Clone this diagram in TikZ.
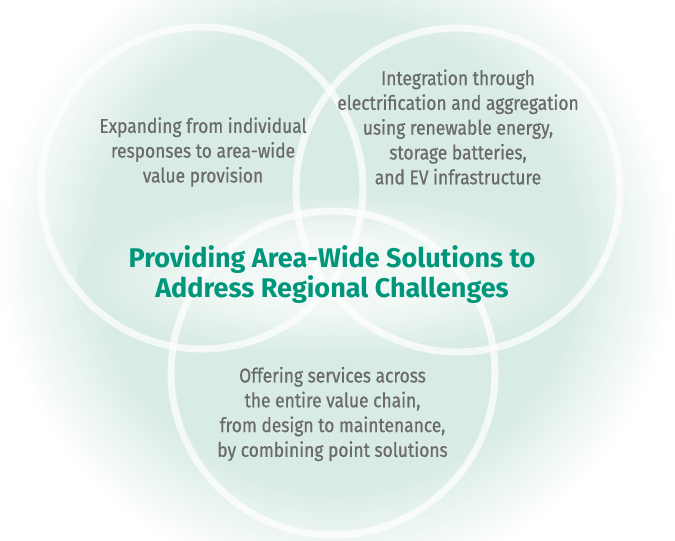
\documentclass[tikz,border=0pt]{standalone}
\usepackage{fontspec}
\newfontfamily\grayfont[FakeStretch=0.87,FakeBold=0.6]{Fira Sans}
\newfontfamily\titlefont{Fira Sans}
\definecolor{mint}{RGB}{216,235,229}
\definecolor{glow}{RGB}{241,248,245}
\definecolor{titlegreen}{RGB}{0,150,124}
\definecolor{graytxt}{RGB}{106,106,106}
\tikzset{
  ring/.style={draw=white, line width=7pt, draw opacity=0.72},
  graynote/.style={inner sep=0pt, align=center, text=graytxt, font=\grayfont\fontsize{20}{24.8}\selectfont},
  titlenote/.style={inner sep=0pt, align=center, text=titlegreen, font=\titlefont\bfseries\fontsize{27}{30}\selectfont}
}
\begin{document}
\begin{tikzpicture}[x=1pt,y=-1pt]
\useasboundingbox (0,0) rectangle (675,541);
\fill[white] (0,0) rectangle (675,541);
\begin{scope}
\clip (0,0) rectangle (675,541);
% soft mint background, stepped from white rim to mint plateau
\foreach \i in {0,...,48} {
  \pgfmathsetmacro\rx{340*(1-0.3*\i/48)}
  \pgfmathsetmacro\ry{330*(1-0.3*\i/48)}
  \pgfmathtruncatemacro\p{100*\i/48}
  \fill[mint!\p!white] (337,255) ellipse [x radius=\rx, y radius=\ry];
}
% whitish glow behind the title
\foreach \i in {0,...,30} {
  \pgfmathsetmacro\rx{255*(1-0.55*\i/30)}
  \pgfmathsetmacro\ry{85*(1-0.55*\i/30)}
  \pgfmathtruncatemacro\p{100*\i/30}
  \fill[glow!\p!mint] (332,275) ellipse [x radius=\rx, y radius=\ry];
}
\draw[ring] (202,188) circle (161);
\draw[ring] (458,190) circle (162);
\draw[ring] (333,373) circle (162);
\end{scope}
\node[graynote] (left) at (203,152) {Expanding from individual\\responses to area-wide\\value provision};
\node[graynote] (right) at (458,127) {Integration through\\electrification and aggregation\\using renewable energy,\\storage batteries,\\and EV infrastructure};
\node[graynote] (bottom) at (332.5,414) {Offering services across\\the entire value chain,\\from design to maintenance,\\by combining point solutions};
\node[titlenote] (title) at (332,275) {Providing Area-Wide Solutions to\\Address Regional Challenges};
\end{tikzpicture}
\end{document}
